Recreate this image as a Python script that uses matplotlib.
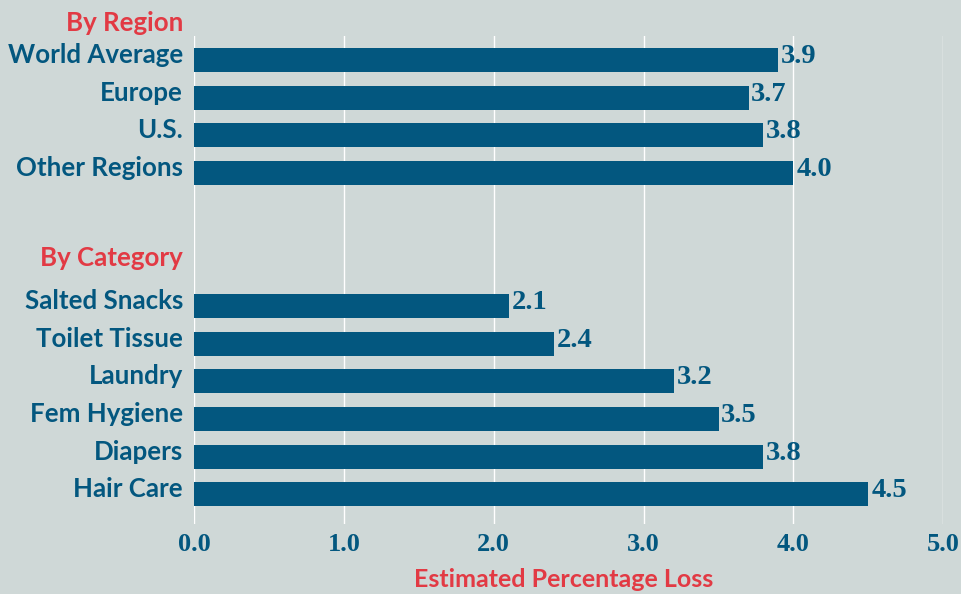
import matplotlib
matplotlib.use("Agg")
import matplotlib.pyplot as plt

# Shrinkage estimates (% of sales)
region_labels = ["World Average", "Europe", "U.S.", "Other Regions"]
region_values = [3.9, 3.7, 3.8, 4.0]
category_labels = ["Salted Snacks", "Toilet Tissue", "Laundry", "Fem Hygiene", "Diapers", "Hair Care"]
category_values = [2.1, 2.4, 3.2, 3.5, 3.8, 4.5]
group_titles = ["By Region", "By Category"]
x_ticks = [0.0, 1.0, 2.0, 3.0, 4.0, 5.0]
x_title = "Estimated Percentage Loss"

BG = "#cfd8d7"
BLUE = "#03577f"
RED = "#e23a44"
LABEL_FONT = "Lato"
NUM_FONT = "Liberation Serif"

# row layout: regions first, then a gap, then categories
cat_start = len(region_labels) + 2.525
region_pos = [i for i in range(len(region_labels))]
category_pos = [cat_start + i for i in range(len(category_labels))]

fig = plt.figure(figsize=(9.61, 5.94), dpi=100, facecolor=BG)
ax = fig.add_axes([0.2019, 0.1178, 0.7797, 0.8216], facecolor=BG)

ys = region_pos + category_pos
vals = region_values + category_values
labels = region_labels + category_labels
ax.barh(ys, vals, height=0.64, color=BLUE, zorder=3)

ax.set_xlim(0, 5)
ax.set_ylim(12.31, -0.637)
ax.set_xticks(x_ticks)
ax.set_xticklabels([f"{t:.1f}" for t in x_ticks], fontfamily=NUM_FONT,
                   fontweight="bold", fontsize=19, color=BLUE)
ax.tick_params(axis="x", length=0, pad=6.5)
ax.set_yticks([])
ax.grid(axis="x", color="white", lw=1.0, zorder=1)
for s in ax.spines.values():
    s.set_visible(False)

for y, v, lab in zip(ys, vals, labels):
    ax.annotate(lab, xy=(0, y), xycoords=("axes fraction", "data"),
                xytext=(-8, -2.2), textcoords="offset points",
                ha="right", va="baseline", fontsize=18.6, fontweight="bold",
                fontfamily=LABEL_FONT, color=BLUE, annotation_clip=False)
    ax.annotate(f"{v:.1f}", xy=(v, y), xytext=(2, -2.2), textcoords="offset points",
                ha="left", va="baseline", fontsize=20.5, fontweight="bold",
                fontfamily=NUM_FONT, color=BLUE, annotation_clip=False)

for title, y in zip(group_titles, [region_pos[0] - 0.85, category_pos[0] - 1.14]):
    ax.annotate(title, xy=(0, y), xycoords=("axes fraction", "data"),
                xytext=(-8, -2.2), textcoords="offset points",
                ha="right", va="baseline", fontsize=18.6, fontweight="bold",
                fontfamily=LABEL_FONT, color=RED, annotation_clip=False)

fig.text(564 / 961, 7 / 594, x_title, ha="center", va="baseline",
         fontsize=18, fontweight="bold", fontfamily=LABEL_FONT, color=RED)

fig.savefig("out.png", dpi=100, facecolor=BG)
